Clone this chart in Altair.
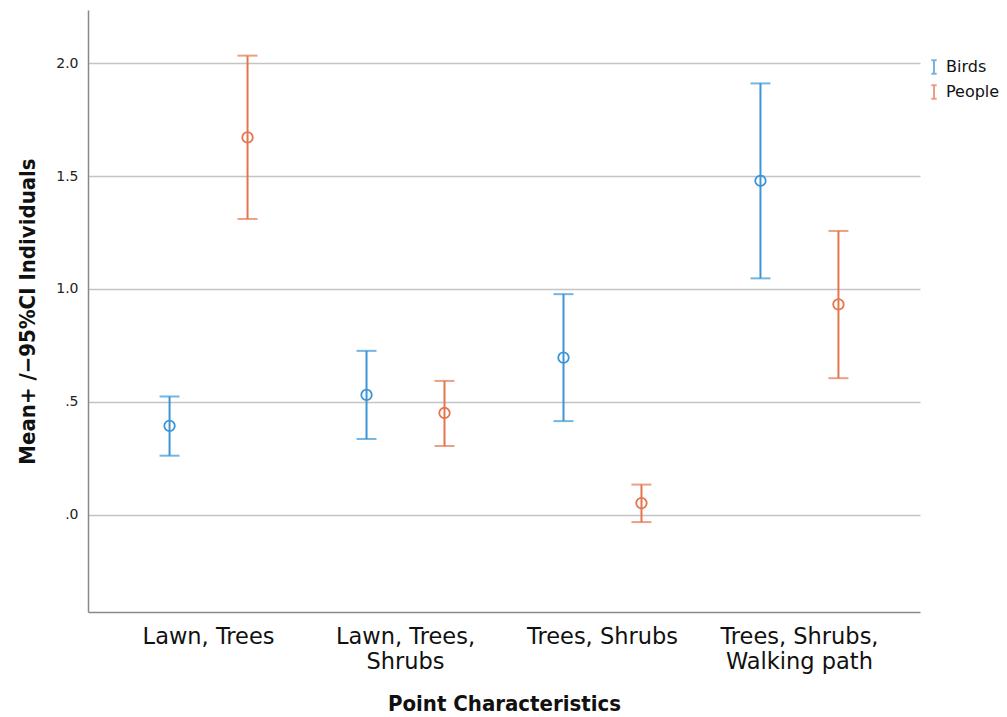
import altair as alt
import pandas as pd

categories = ["Lawn, Trees", "Lawn, Trees,\nShrubs", "Trees, Shrubs", "Trees, Shrubs,\nWalking path"]
series = ["Birds", "People"]
birds_mean = [0.394, 0.531, 0.696, 1.479]
birds_low = [0.262, 0.336, 0.415, 1.047]
birds_high = [0.524, 0.726, 0.977, 1.910]
people_mean = [1.671, 0.451, 0.052, 0.932]
people_low = [1.310, 0.305, -0.032, 0.605]
people_high = [2.033, 0.593, 0.134, 1.257]
colors = ["#3b95d6", "#e3764e"]

rows = []
for i, c in enumerate(categories):
    rows.append({"cat": c, "group": "Birds", "mean": birds_mean[i], "low": birds_low[i], "high": birds_high[i]})
    rows.append({"cat": c, "group": "People", "mean": people_mean[i], "low": people_low[i], "high": people_high[i]})
df = pd.DataFrame(rows)

ibeam = "M-0.4,-1H0.4M0,-1V1M-0.4,1H0.4"

x_enc = alt.X("cat:N", sort=categories,
              scale=alt.Scale(paddingInner=0, paddingOuter=0.112),
              axis=alt.Axis(title="Point Characteristics", labelAngle=0,
                            labelExpr="split(datum.label, '\\n')",
                            labelFontSize=22.5, labelFont="DejaVu Sans",
                            labelColor="#111", labelPadding=13, labelLineHeight=25,
                            ticks=False, domainColor="#888", domainWidth=1.5,
                            titleFontSize=22, titleFont="DejaVu Sans Condensed", titleFontWeight="bold",
                            titleColor="#111", titlePadding=21))
xo = alt.XOffset("group:N", sort=series, scale=alt.Scale(paddingInner=0, paddingOuter=0.263))
color = alt.Color("group:N", sort=series,
                  scale=alt.Scale(domain=series, range=colors),
                  legend=alt.Legend(title=None, orient="none", legendX=838, legendY=49,
                                    symbolType=ibeam, symbolSize=180, symbolStrokeWidth=2,
                                    labelFontSize=16, labelFont="DejaVu Sans", labelColor="#111",
                                    labelOffset=4, rowPadding=3, symbolOffset=0))

y_scale = alt.Scale(domain=[-0.43, 2.235], nice=False, zero=False)
y_axis = alt.Axis(title="Mean+ /\u221295%CI Individuals", values=[0, 0.5, 1, 1.5, 2],
                  labelExpr="datum.value >= 0 && datum.value < 1 ? slice(format(datum.value, '.1f'), 1) : format(datum.value, '.1f')",
                  labelFontSize=14, labelFont="DejaVu Sans", labelColor="#222", labelPadding=10,
                  ticks=False, domainColor="#888", domainWidth=1.5,
                  gridColor="#c4c4c4", gridWidth=1.5,
                  titleFontSize=22, titleFont="DejaVu Sans Condensed", titleFontWeight="bold",
                  titleColor="#111", titlePadding=16)

base = alt.Chart(df).encode(x=x_enc, xOffset=xo, color=color)

rule = base.mark_rule(strokeWidth=2).encode(
    y=alt.Y("low:Q", scale=y_scale, axis=y_axis), y2="high:Q")
cap_hi = base.mark_tick(thickness=2, size=20, orient="horizontal").encode(y=alt.Y("high:Q", scale=y_scale))
cap_lo = base.mark_tick(thickness=2, size=20, orient="horizontal").encode(y=alt.Y("low:Q", scale=y_scale))
pts = base.mark_point(shape="circle", size=110, strokeWidth=1.8, filled=False, opacity=1).encode(
    y=alt.Y("mean:Q", scale=y_scale))

chart = alt.layer(rule, cap_hi, cap_lo, pts).properties(
    width=832, height=602,
    autosize=alt.AutoSizeParams(type="none"),
    padding={"left": 88, "top": 10, "right": 87, "bottom": 105},
).configure(background="white").configure_view(stroke=None)

chart.save("out.html", embed_options={"renderer": "svg", "actions": False})
